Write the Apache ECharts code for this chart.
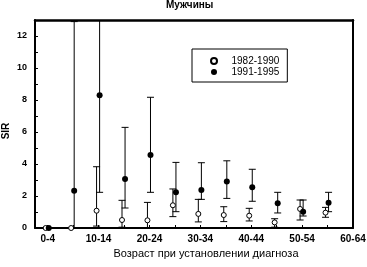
<!DOCTYPE html>
<html><head><meta charset="utf-8">
<script src="https://cdn.jsdelivr.net/npm/echarts@6/dist/echarts.min.js"></script>
<style>html,body{margin:0;padding:0;background:#fff}#c{width:367px;height:267px}</style>
</head><body><div id="c"></div>
<script>
// Age groups (index = x position on the axis)
const ageGroups = ['0-4','5-9','10-14','15-19','20-24','25-29','30-34','35-39','40-44','45-49','50-54','55-59'];
const tickLabels = ['0-4','10-14','20-24','30-34','40-44','50-54','60-64'];

// 1982-1990 (open circles)
const sir8290 = [0, 0, 1.08, 0.50, 0.48, 1.42, 0.88, 0.81, 0.77, 0.35, 1.19, 0.96];
const lo8290  = [0, 0, 0.12, 0.05, 0.03, 0.71, 0.38, 0.40, 0.44, 0.05, 0.50, 0.67];
const hi8290  = [0, 0, 3.83, 1.73, 1.60, 2.44, 1.79, 1.33, 1.23, 0.58, 1.75, 1.29];

// 1991-1995 (filled circles)
const sir9195 = [0, 2.33, 8.29, 3.06, 4.56, 2.23, 2.37, 2.90, 2.54, 1.54, 1.02, 1.58];
const lo9195  = [0, 0.03, 2.23, 1.25, 2.23, 1.02, 1.79, 1.85, 1.67, 0.94, 0.75, 1.02];
const hi9195  = [0, 12.9, 16.0, 6.29, 8.17, 4.10, 4.08, 4.20, 3.67, 2.23, 1.75, 2.23];

const Y_MAX = 13;
const DODGE_OPEN = -0.08, DODGE_FILLED = 0.04;

function errRender(params, api) {
  const x = api.value(0), lo = api.value(1), hi = api.value(2);
  if (lo === hi) return null;
  const pLo = api.coord([x, lo]);
  const pHi = api.coord([x, Math.min(hi, Y_MAX)]);
  const w = 3.5;
  const st = {stroke: '#000', lineWidth: 1};
  const ch = [
    {type: 'line', shape: {x1: pLo[0], y1: pLo[1], x2: pHi[0], y2: pHi[1]}, style: st},
    {type: 'line', shape: {x1: pLo[0] - w, y1: pLo[1], x2: pLo[0] + w, y2: pLo[1]}, style: st}
  ];
  if (hi <= Y_MAX) ch.push({type: 'line', shape: {x1: pHi[0] - w, y1: pHi[1], x2: pHi[0] + w, y2: pHi[1]}, style: st});
  return {type: 'group', children: ch};
}

const errOpen = ageGroups.map((g, i) => [i + DODGE_OPEN, lo8290[i], hi8290[i]]);
const errFilled = ageGroups.map((g, i) => [i + DODGE_FILLED, lo9195[i], hi9195[i]]);
const ptsOpen = ageGroups.map((g, i) => [i + DODGE_OPEN, sir8290[i]]);
const ptsFilled = ageGroups.map((g, i) => [i + DODGE_FILLED, sir9195[i]]);

const chart = echarts.init(document.getElementById('c'), null, {renderer: 'canvas'});
const ff = 'Liberation Sans, Arial, sans-serif';
chart.setOption({
  animation: false,
  backgroundColor: '#fff',
  textStyle: {fontFamily: ff},
  title: {text: 'Мужчины', left: 166, top: 0, padding: 0,
    textStyle: {fontSize: 10, fontWeight: 'bold', color: '#000', fontFamily: ff}},
  grid: {left: 35, right: 14, top: 20, bottom: 39, containLabel: false, outerBoundsMode: 'none'},
  graphic: [{
    type: 'text', x: 6, y: 131, rotation: Math.PI / 2,
    style: {text: 'SIR', align: 'center', verticalAlign: 'middle', fontSize: 10, fontWeight: 'bold', fill: '#000', fontFamily: ff}
  }],
  legend: {
    orient: 'vertical', left: 192, top: 49,
    data: ['1982-1990', '1991-1995'],
    borderColor: '#000', borderWidth: 1, borderRadius: 0,
    padding: [7, 8, 5, 18], itemGap: 1, itemWidth: 25, itemHeight: 6,
    textStyle: {fontSize: 10, color: '#000', fontFamily: ff}
  },
  xAxis: [{
    type: 'value', min: -0.5, max: 12, position: 'bottom',
    axisLine: {onZero: false, lineStyle: {color: '#000', width: 2}},
    axisTick: {show: true, inside: true, length: 3, customValues: ageGroups.map((g, i) => i).concat([12]), lineStyle: {color: '#000'}},
    axisLabel: {customValues: tickLabels.map((t, k) => 2 * k), formatter: v => tickLabels[Math.round(v / 2)],
      color: '#000', fontSize: 10, fontWeight: 'bold', margin: 6, fontFamily: ff},
    splitLine: {show: false},
    name: 'Возраст при установлении диагноза', nameLocation: 'middle', nameGap: 13,
    nameTextStyle: {fontSize: 11, color: '#000', padding: [0, 0, 0, 24], fontFamily: ff}
  }, {
    type: 'value', min: -0.5, max: 12, position: 'top',
    axisLine: {onZero: false, lineStyle: {color: '#000', width: 2.5}},
    axisTick: {show: false}, axisLabel: {show: false}, splitLine: {show: false}
  }],
  yAxis: [{
    type: 'value', min: 0, max: Y_MAX, position: 'left',
    axisLine: {onZero: false, lineStyle: {color: '#000', width: 2}},
    axisTick: {show: true, inside: true, length: 3, customValues: [0,1,2,3,4,5,6,7,8,9,10,11,12], lineStyle: {color: '#000'}},
    axisLabel: {customValues: [0,2,4,6,8,10,12], color: '#000', fontSize: 9, fontWeight: 'bold', margin: 8, fontFamily: ff},
    splitLine: {show: false}
  }, {
    type: 'value', min: 0, max: Y_MAX, position: 'right',
    axisLine: {onZero: false, lineStyle: {color: '#000', width: 2}},
    axisTick: {show: false}, axisLabel: {show: false}, splitLine: {show: false}
  }],
  series: [
    {type: 'custom', name: 'err8290', renderItem: errRender, data: errOpen, encode: {x: 0, y: [1, 2]}, z: 2, silent: true},
    {type: 'custom', name: 'err9195', renderItem: errRender, data: errFilled, encode: {x: 0, y: [1, 2]}, z: 2, silent: true},
    {type: 'scatter', name: '1982-1990', data: ptsOpen, symbol: 'circle', symbolSize: 5, z: 3,
      itemStyle: {color: '#fff', borderColor: '#000', borderWidth: 1, opacity: 1}},
    {type: 'scatter', name: '1991-1995', data: ptsFilled, symbol: 'circle', symbolSize: 6, z: 4,
      itemStyle: {color: '#000', borderColor: '#000', borderWidth: 0, opacity: 1}}
  ]
});
</script></body></html>
